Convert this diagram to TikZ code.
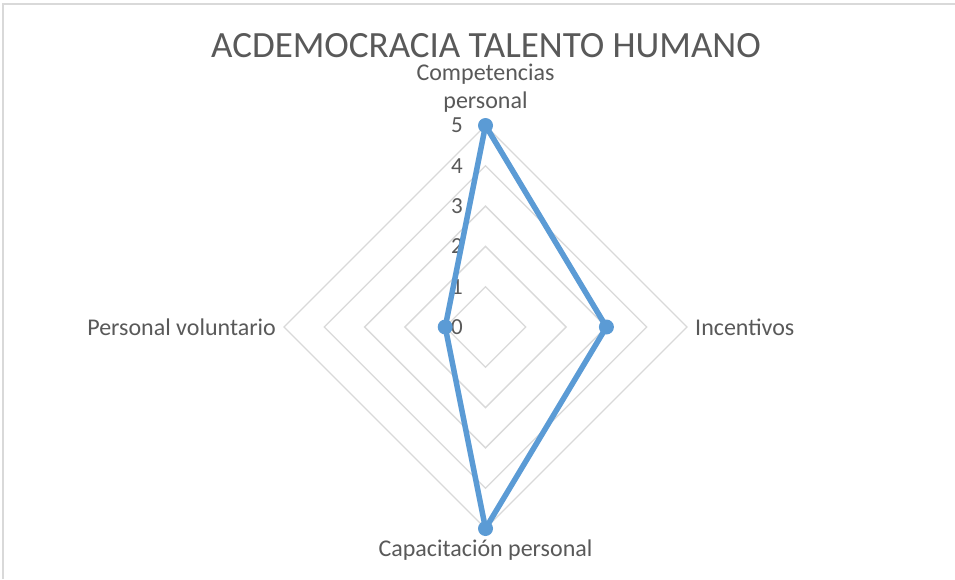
\documentclass[tikz,border=0pt]{standalone}
\usepackage{fontspec}
\setmainfont{Carlito}
\usetikzlibrary{calc}
\definecolor{txt}{HTML}{595959}
\definecolor{gridc}{HTML}{D9D9D9}
\definecolor{ser}{HTML}{5B9BD5}
\begin{document}
\begin{tikzpicture}[x=1pt,y=-1pt,
  lbl/.style={text=txt,font=\fontsize{24}{28}\selectfont,inner sep=0pt},
  tick/.style={text=txt,font=\fontsize{23}{26}\selectfont,inner sep=0pt,anchor=east},
  ring/.style={draw=gridc,line width=1.3pt},
  mk/.style={circle,fill=ser,minimum size=15pt,inner sep=0pt}]
\useasboundingbox (0,0) rectangle (955,579);
\fill[white] (0,0) rectangle (955,579);
\draw[gridc,line width=1.5pt] (3,579) -- (3,4) -- (955,4);
\coordinate (C) at (485.5,327);
\foreach \r in {1,...,5}{
  \draw[ring] ($(C)+(0,-40.3*\r)$) -- ($(C)+(40.3*\r,0)$) -- ($(C)+(0,40.3*\r)$) -- ($(C)+(-40.3*\r,0)$) -- cycle;
}
\node[text=txt,font=\fontsize{37}{40}\selectfont,inner sep=0pt] (title) at (486,46) {ACDEMOCRACIA TALENTO HUMANO};
\node[lbl,align=center] (comp) at (485.5,88) {Competencias\\personal};
\node[lbl,anchor=west] (inc) at (695,327) {Incentivos};
\node[lbl] (cap) at (485.5,550) {Capacitación personal};
\node[lbl,anchor=east] (vol) at (276,327) {Personal voluntario};
\foreach \v in {0,...,5}{
  \node[tick] (t\v) at (463,327-40.3*\v) {\v};
}
\node[mk] (p1) at (485.5,125.5) {};
\node[mk] (p2) at (606.4,327) {};
\node[mk] (p3) at (485.5,528.5) {};
\node[mk] (p4) at (445.2,327) {};
\draw[ser,line width=5.5pt,line join=round] (p1.center) -- (p2.center) -- (p3.center) -- (p4.center) -- cycle;
\end{tikzpicture}
\end{document}
